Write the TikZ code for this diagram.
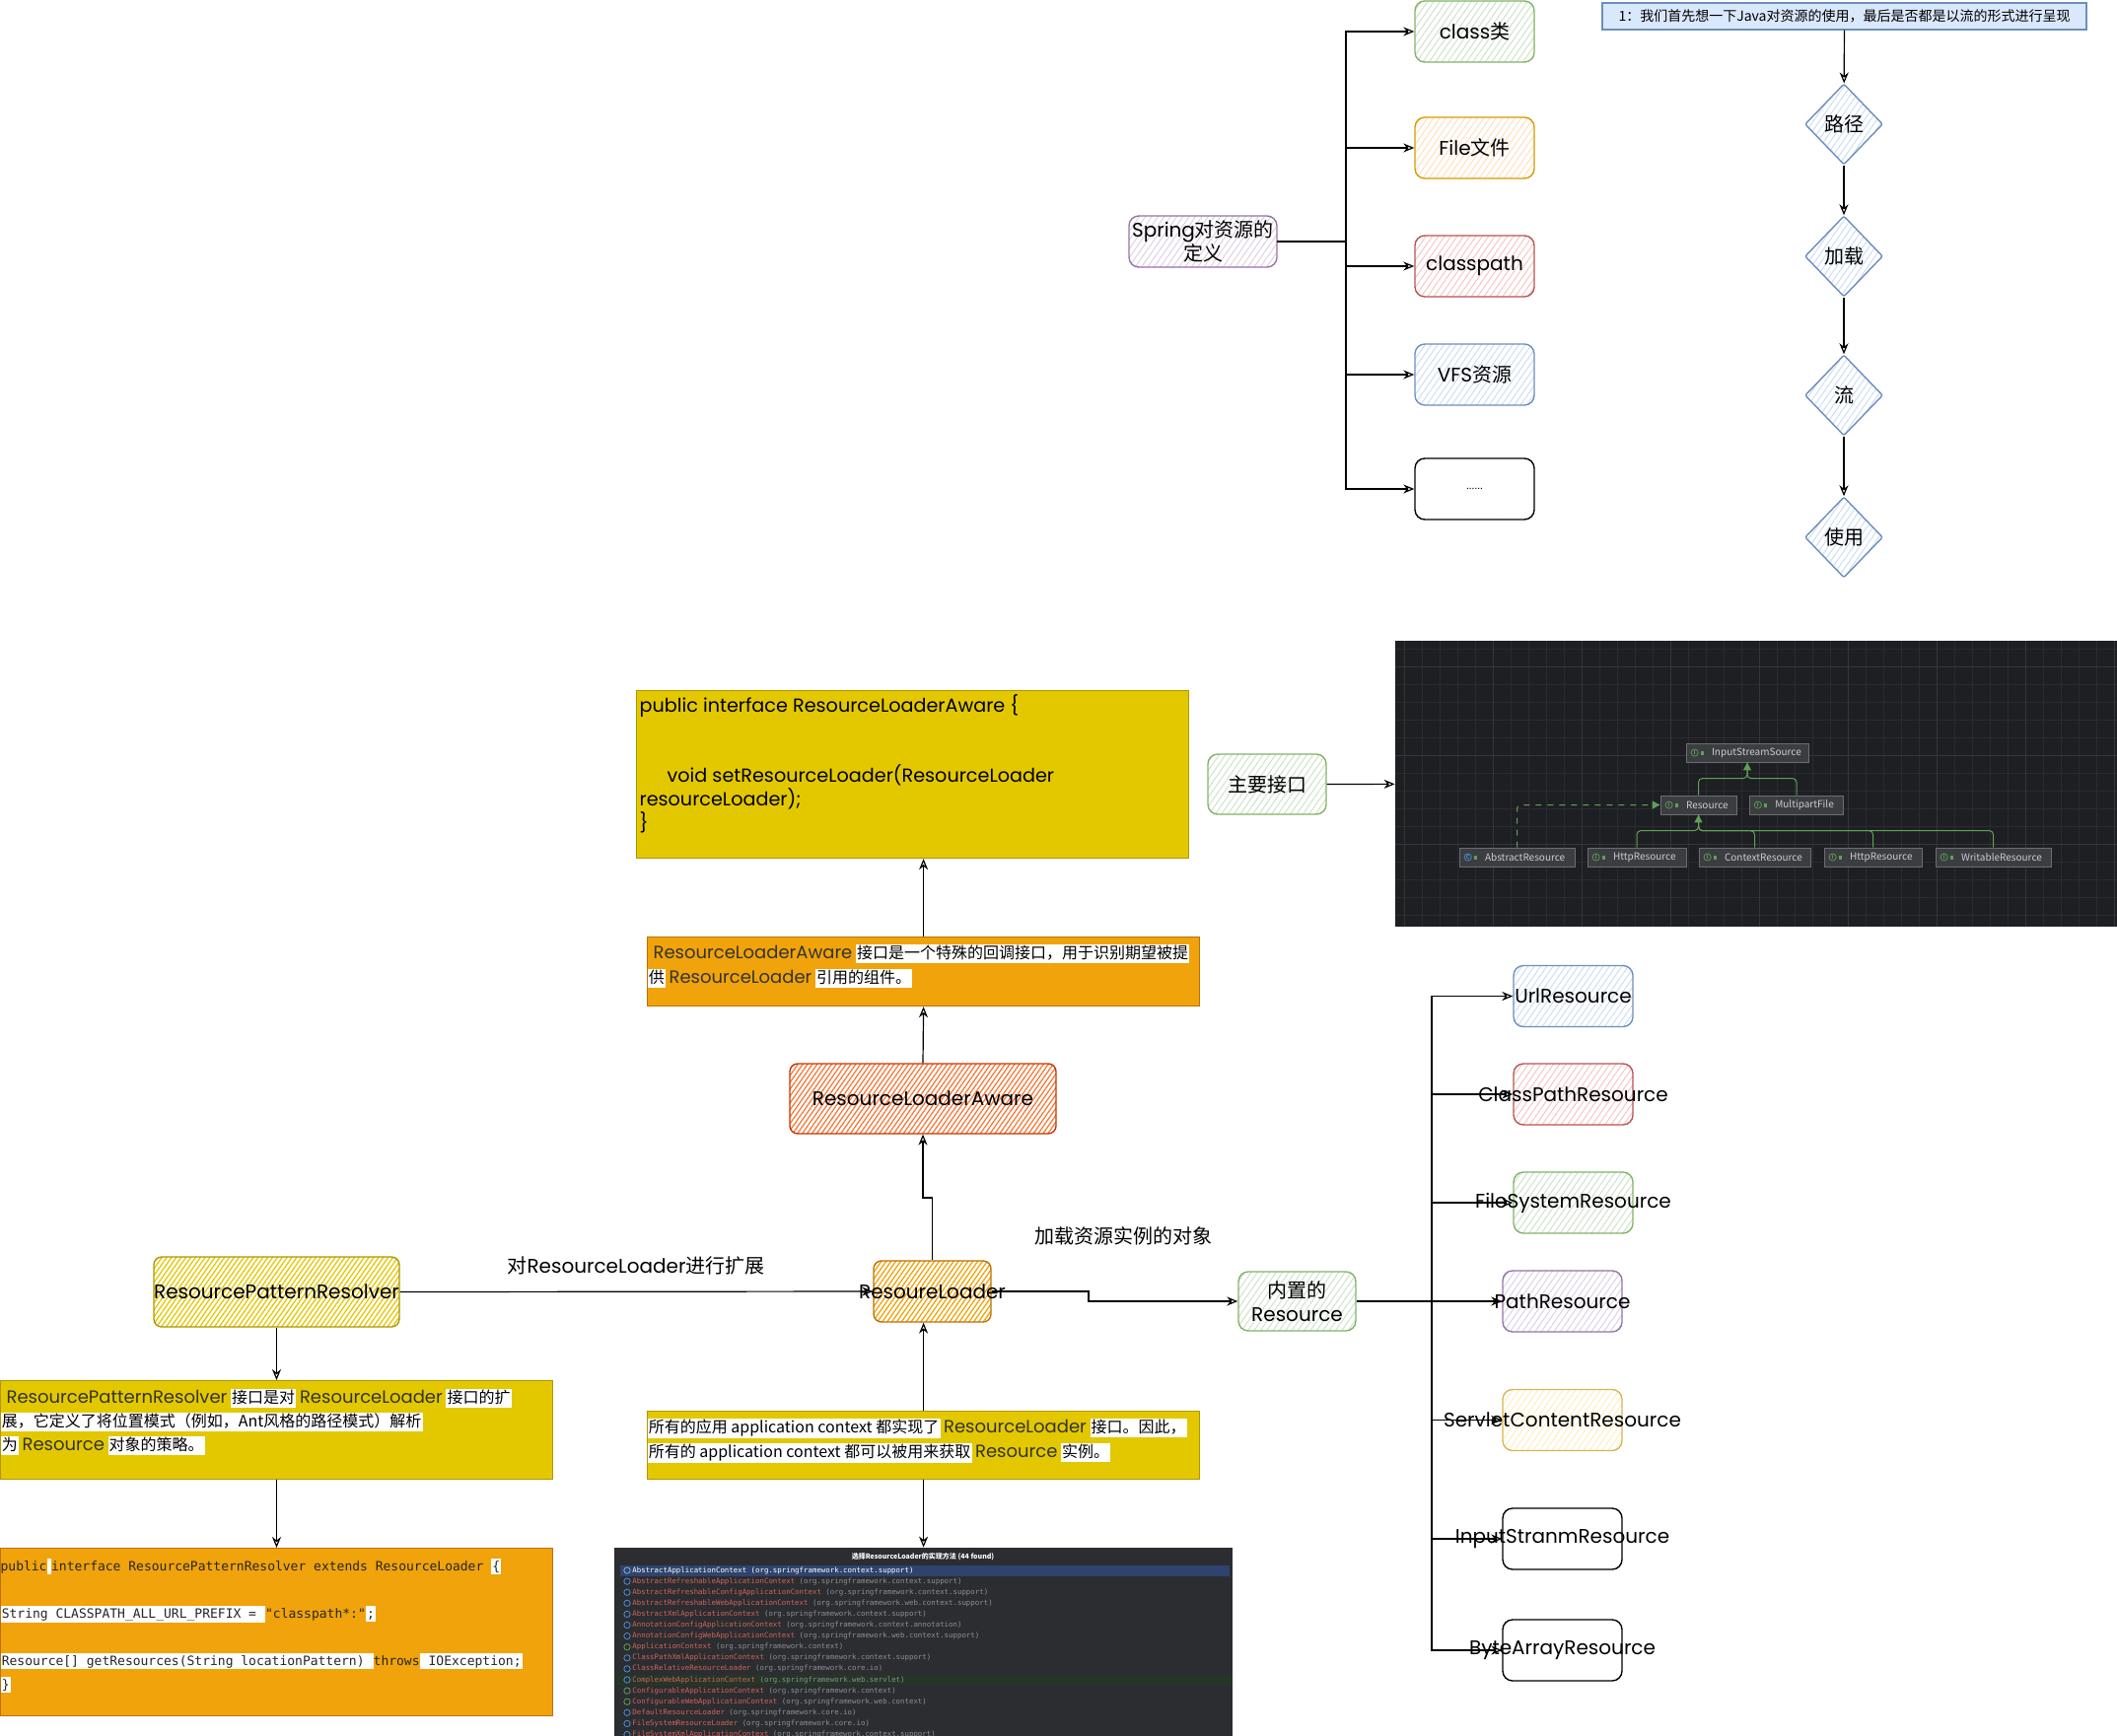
\documentclass[tikz,border=0pt]{standalone}
\usepackage{fontspec}
\setmainfont{Noto Sans CJK SC}
\newfontfamily\skfont{Poppins}
\newfontfamily\monofont{DejaVu Sans Mono}
\usetikzlibrary{arrows.meta, shapes.geometric, patterns.meta}

\definecolor{grnD}{HTML}{82B366}
\definecolor{grnL}{HTML}{C9E1C6}
\definecolor{orgD}{HTML}{D79B00}
\definecolor{orgL}{HTML}{FFDDB8}
\definecolor{redD}{HTML}{B85450}
\definecolor{redL}{HTML}{F5C2C0}
\definecolor{bluD}{HTML}{6C8EBF}
\definecolor{bluL}{HTML}{DAE8FC}
\definecolor{bluH}{HTML}{C9DBF5}
\definecolor{purD}{HTML}{9673A6}
\definecolor{purL}{HTML}{DCCDE3}
\definecolor{ylwD}{HTML}{D6B656}
\definecolor{ylwL}{HTML}{FFEDB8}
\definecolor{codeY}{HTML}{E3C800}
\definecolor{codeYD}{HTML}{B09500}
\definecolor{codeO}{HTML}{F0A30A}
\definecolor{codeOD}{HTML}{BD7000}
\definecolor{awareD}{HTML}{C73500}
\definecolor{awareH}{HTML}{F47A3C}
\definecolor{shotbg}{HTML}{1E1F22}
\definecolor{gridA}{HTML}{292B2F}
\definecolor{gridB}{HTML}{34363B}
\definecolor{umlfill}{HTML}{3B3D41}
\definecolor{umlline}{HTML}{6A6D73}
\definecolor{umltext}{HTML}{C9CCD1}
\definecolor{umlgrn}{HTML}{5FA058}
\definecolor{umlblu}{HTML}{4C8DDB}
\definecolor{listbg}{HTML}{2B2D30}
\definecolor{selblue}{HTML}{2E436E}
\definecolor{selgrn}{HTML}{253528}
\definecolor{rowred}{HTML}{D0645A}
\definecolor{rowgray}{HTML}{8C8F94}
\definecolor{txtdark}{HTML}{333333}

\newcommand{\hl}[1]{{\setlength{\fboxsep}{0.6pt}\colorbox{white}{\rule[-0.2em]{0pt}{1.08em}#1}}}
\newcommand{\skd}{\skfont\fontsize{9}{12.5}\selectfont\color{txtdark}}

\begin{document}
\begin{tikzpicture}[
    x=0.5pt, y=-0.5pt,
    sketch/.style 2 args={rectangle, rounded corners=5pt, draw=#1, line width=0.7pt,
        preaction={fill=white}, pattern={Lines[angle=55,distance=2.6pt,line width=0.45pt]}, pattern color=#2,
        minimum width=60.5pt, minimum height=31pt, inner sep=0pt, align=center,
        font=\fontsize{10}{12}\selectfont},
    sketchD/.style 2 args={rectangle, rounded corners=4pt, draw=#1, line width=0.7pt,
        preaction={fill=white}, pattern={Lines[angle=55,distance=2pt,line width=0.65pt]}, pattern color=#2,
        inner sep=0pt, align=center, font=\fontsize{10}{12}\selectfont},
    diam/.style={sketch={bluD}{bluH}, diamond, rounded corners=1pt, minimum width=39.5pt, minimum height=41pt},
    codebox/.style 2 args={rectangle, draw=#1, fill=#2, line width=0.6pt, inner sep=0pt, anchor=north west},
    notebox/.style={rectangle, draw=bluD, fill=bluL, line width=0.6pt, minimum width=245.5pt,
        minimum height=13.5pt, inner sep=0pt, font=\fontsize{7}{8}\selectfont},
    lab/.style={inner sep=0pt, font=\fontsize{10}{12}\selectfont},
    arr/.style={-{Stealth[open, length=5.5pt, width=4.5pt]}, line width=0.6pt},
    uml/.style={rectangle, draw=umlline, fill=umlfill, line width=0.4pt, inner xsep=2pt, inner ysep=0pt,
        minimum height=9.5pt, text width=#1, align=left, text=umltext, font=\fontsize{5}{6}\selectfont},
    icontxt/.style={inner sep=0pt, font=\bfseries\fontsize{2.6}{3}\selectfont},
    umlline/.style={draw=umlgrn, line width=0.5pt, rounded corners=2pt},
    umlarr/.style={umlline, -{Triangle[length=4pt, width=4pt]}},
    rowtxt/.style={anchor=west, inner sep=0pt, font=\monofont\fontsize{3.7}{4}\selectfont}
]
    \useasboundingbox (0,0) rectangle (2147,1761);

    % Spring 对资源的定义
    \node[sketch={purD}{purL}, minimum width=75pt, minimum height=26pt] (spring) at (1220,245) {{\skfont Spring}对资源的\\定义};
    \node[sketch={grnD}{grnL}] (cls) at (1495.5,32) {{\skfont class}类};
    \node[sketch={orgD}{orgL}] (file) at (1495.5,150) {{\skfont File}文件};
    \node[sketch={redD}{redL}] (cpath) at (1495.5,270) {\skfont classpath};
    \node[sketch={bluD}{bluH}] (vfs) at (1495.5,380) {{\skfont VFS}资源};
    \node[sketch={black}{white}] (dots) at (1495.5,496) {\fontsize{5}{5}\selectfont ......};

    \coordinate (trunkA) at (1365,245);
    \draw[line width=0.7pt] (spring.east) -- (trunkA);
    \foreach \n in {cls,file,cpath,vfs,dots}
        \draw[arr] (trunkA) |- (\n.west);

    % 资源的使用流程
    \node[notebox] (note) at (1870.5,16.5) {1：我们首先想一下Java对资源的使用，最后是否都是以流的形式进行呈现};
    \node[diam] (path) at (1870,126) {路径};
    \node[diam] (load) at (1870,260) {加载};
    \node[diam] (stream) at (1870,401) {流};
    \node[diam] (use) at (1870,545) {使用};
    \draw[arr] (note) -- (path);
    \draw[arr] (path) -- (load);
    \draw[arr] (load) -- (stream);
    \draw[arr] (stream) -- (use);

    % ResourceLoaderAware 接口代码
    \node[codebox={codeYD}{codeY}] (rlacode) at (645,700) {\parbox[c][85pt][t]{280pt}{\skfont\fontsize{9.6}{11.9}\selectfont\vspace*{2pt}
        \hspace*{1.5pt}public interface ResourceLoaderAware \{\\
        \mbox{}\\
        \mbox{}\\
        \hspace*{15.5pt}void setResourceLoader(ResourceLoader\\
        \hspace*{1.5pt}resourceLoader);\\
        \hspace*{1.5pt}\}}};

    % 主要接口 + 类图截图
    \node[sketch={grnD}{grnL}, minimum width=60pt, minimum height=30.5pt] (mainif) at (1285,795.5) {主要接口};
    \node[fill=shotbg, minimum width=366pt, minimum height=145pt, inner sep=0pt] (shot1) at (1781,795) {};
    \begin{scope}
        \clip (shot1.south west) rectangle (shot1.north east);
        \foreach \gx in {1424,1442,...,2147} \draw[gridA, line width=0.4pt] (\gx,650) -- (\gx,940);
        \foreach \gy in {658,676,...,940} \draw[gridA, line width=0.4pt] (1415,\gy) -- (2147,\gy);
        \foreach \gx in {1424,1514,...,2147} \draw[gridB, line width=0.5pt] (\gx,650) -- (\gx,940);
        \foreach \gy in {676,766,...,940} \draw[gridB, line width=0.5pt] (1415,\gy) -- (2147,\gy);
    \end{scope}
    \draw[arr] (mainif) -- (shot1);

    \node[uml=58pt] (iss) at (1772,763.5) {\mbox{\hspace*{11pt}InputStreamSource}};
    \node[uml=34.5pt] (res) at (1722.5,816.5) {\mbox{\hspace*{11pt}Resource}};
    \node[uml=43.75pt] (mpf) at (1822,816.5) {\mbox{\hspace*{11pt}MultipartFile}};
    \node[uml=54.5pt] (absr) at (1538.5,869.5) {\mbox{\hspace*{11pt}AbstractResource}};
    \node[uml=46pt] (http1) at (1660,869.5) {\mbox{\hspace*{11pt}HttpResource}};
    \node[uml=52.5pt] (ctxr) at (1779.5,869.5) {\mbox{\hspace*{11pt}ContextResource}};
    \node[uml=45.5pt] (http2) at (1899.5,869.5) {\mbox{\hspace*{11pt}HttpResource}};
    \node[uml=54.5pt] (wrr) at (2021.5,869.5) {\mbox{\hspace*{11pt}WritableResource}};
    \foreach \n/\c/\l in {iss/umlgrn/I, res/umlgrn/I, mpf/umlgrn/I, absr/umlblu/C,
                          http1/umlgrn/I, ctxr/umlgrn/I, http2/umlgrn/I, wrr/umlgrn/I} {
        \draw[\c, line width=0.35pt] ([xshift=4.5pt]\n.west) circle (1.8pt);
        \node[icontxt, text=\c] (ic\n) at ([xshift=4.5pt]\n.west) {\l};
        \fill[umlgrn] ([xshift=7.8pt, yshift=-1pt]\n.west) rectangle ++(1.4pt,1.8pt);
    }

    \draw[umlarr] (res.north) -- ++(0,-17) -| (iss.south);
    \draw[umlline] (mpf.north) -- ++(0,-17) -| (iss.south);
    \draw[umlarr] (http1.north) -- ++(0,-17) -| (res.south);
    \foreach \n in {ctxr,http2,wrr}
        \draw[umlline] (\n.north) -- ++(0,-17) -| (res.south);
    \draw[umlarr, dashed] (absr.north) |- (res.west);

    % ResourceLoaderAware 说明
    \node[codebox={codeOD}{codeO}] (rlades) at (656,950) {\parbox[c][35pt][t]{280pt}{\fontsize{8}{12.5}\selectfont\vspace*{3.5pt}
        \mbox{\hspace*{3pt}{\skd ResourceLoaderAware} \hl{接口是一个特殊的回调接口，用于识别期望被提}}\\
        \mbox{\hl{供} {\skd ResourceLoader} \hl{引用的组件。}}}};
    \node[sketchD={awareD}{awareH}, minimum width=135pt, minimum height=35.5pt] (rlabox) at (936,1114.5) {\skfont ResourceLoaderAware};

    % ResourceLoader
    \node[sketchD={codeOD}{codeO}, minimum width=59.5pt, minimum height=31pt] (loader) at (945.5,1310) {\makebox[0pt]{\skfont ResoureLoader}};
    \node[sketch={grnD}{grnL}, minimum width=59.5pt, minimum height=30pt] (builtin) at (1315.5,1320) {内置的\\{\skfont Resource}};
    \node[lab] (loadlbl) at (1139,1254) {加载资源实例的对象};
    \node[lab] (extlbl) at (645,1284) {对{\skfont ResourceLoader}进行扩展};

    % ResourcePatternResolver
    \node[sketchD={codeYD}{codeY}, minimum width=124.5pt, minimum height=35.5pt] (resolver) at (280.5,1310.5) {\makebox[0pt]{\skfont ResourcePatternResolver}};
    \node[codebox={codeYD}{codeY}] (resdes) at (0,1400) {\parbox[c][50pt][t]{280pt}{\fontsize{8}{12}\selectfont\vspace*{4pt}
        \mbox{\hspace*{3pt}{\skd ResourcePatternResolver} \hl{接口是对} {\skd ResourceLoader} \hl{接口的扩}}\\
        \mbox{\hl{展，它定义了将位置模式（例如，Ant风格的路径模式）解析}}\\
        \mbox{\hl{为} {\skd Resource} \hl{对象的策略。}}}};
    \node[codebox={codeOD}{codeO}] (rescode) at (0,1570) {\parbox[c][85pt][t]{280pt}{\monofont\fontsize{6.5}{12}\selectfont\color{black!85}\vspace*{5pt}
        \mbox{public\hl{\,}interface ResourcePatternResolver extends ResourceLoader \hl{\{}}\\
        \mbox{}\\
        \mbox{\hl{String CLASSPATH\_ALL\_URL\_PREFIX = }"classpath*:"\hl{;}}\\
        \mbox{}\\
        \mbox{\hl{Resource[] getResources(String locationPattern) }throws\hl{ IOException;}}\\
        \mbox{\hl{\}}}}};

    % ApplicationContext 说明 + 实现类截图
    \node[codebox={codeYD}{codeY}] (appdes) at (656,1431) {\parbox[c][34.5pt][t]{280pt}{\fontsize{8}{12.5}\selectfont\vspace*{3.5pt}
        \mbox{\hl{所有的应用 application context 都实现了} {\skd ResourceLoader} \hl{接口。因此，}}\\
        \mbox{\hl{所有的 application context 都可以被用来获取} {\skd Resource} \hl{实例。}}}};
    \node[fill=listbg, minimum width=313.5pt, minimum height=95.5pt, inner sep=0pt] (shot2) at (936.5,1665.5) {};
    \begin{scope}
        \clip (shot2.south west) rectangle (shot2.north east);
        \fill[selblue] (629,1587.5) rectangle (1247,1598.5);
        \fill[selgrn] (623,1698.5) rectangle (1250,1709.5);
        \node[inner sep=0pt, text=white, font=\bfseries\fontsize{3.5}{4}\selectfont] (shothdr) at (936,1579) {选择ResourceLoader的实现方法 (44 found)};
        \draw[umlblu!70!white, line width=0.4pt] (636,1593) circle (1.6pt);
        \node[rowtxt, text=white] (row1) at (641,1593) {AbstractApplicationContext (org.springframework.context.support)};
        \foreach \nm/\pk/\ic [count=\i from 2] in {
            AbstractRefreshableApplicationContext/org.springframework.context.support/umlblu,
            AbstractRefreshableConfigApplicationContext/org.springframework.context.support/umlblu,
            AbstractRefreshableWebApplicationContext/org.springframework.web.context.support/umlblu,
            AbstractXmlApplicationContext/org.springframework.context.support/umlblu,
            AnnotationConfigApplicationContext/org.springframework.context.annotation/umlblu,
            AnnotationConfigWebApplicationContext/org.springframework.web.context.support/umlblu,
            ApplicationContext/org.springframework.context/umlgrn,
            ClassPathXmlApplicationContext/org.springframework.context.support/umlblu,
            ClassRelativeResourceLoader/org.springframework.core.io/umlblu,
            ComplexWebApplicationContext/org.springframework.web.servlet/umlblu,
            ConfigurableApplicationContext/org.springframework.context/umlgrn,
            ConfigurableWebApplicationContext/org.springframework.web.context/umlgrn,
            DefaultResourceLoader/org.springframework.core.io/umlblu,
            FileSystemResourceLoader/org.springframework.core.io/umlblu,
            FileSystemXmlApplicationContext/org.springframework.context.support/umlblu}
        {
            \draw[\ic, line width=0.4pt] (636,{1581.9+11.1*\i}) circle (1.6pt);
            \node[rowtxt] (row\i) at (641,{1581.9+11.1*\i}) {{\color{rowred}\nm} {\color{rowgray}(\pk)}};
        }
    \end{scope}

    % 内置的 Resource 实现
    \node[sketch={bluD}{bluH}] (url) at (1595.5,1010.5) {\skfont UrlResource};
    \node[sketch={redD}{redL}] (cpr) at (1595.5,1110) {\makebox[0pt]{\skfont ClassPathResource}};
    \node[sketch={grnD}{grnL}] (fsr) at (1595.5,1220) {\makebox[0pt]{\skfont FileSystemResource}};
    \node[sketch={purD}{purL}] (pathr) at (1584.5,1320) {\makebox[0pt]{\skfont PathResource}};
    \node[sketch={ylwD}{ylwL}] (servr) at (1584.5,1440.5) {\makebox[0pt]{\skfont ServletContentResource}};
    \node[sketch={black}{white}] (isr) at (1584.5,1561) {\makebox[0pt]{\skfont InputStranmResource}};
    \node[sketch={black}{white}] (bar) at (1584.5,1674) {\makebox[0pt]{\skfont ByteArrayResource}};

    % Arrows
    \coordinate (jogA) at (945.5,1215);
    \draw[arr] (loader.north) -- (jogA) -| (rlabox.south);
    \draw[arr] (rlabox.north) -- (rlades.south);
    \draw[arr] (rlades.north) -- (rlades.north |- rlacode.south);
    \draw[arr] (appdes.north) -- (appdes.north |- loader.south);
    \draw[arr] (appdes.south) -- (appdes.south |- shot2.north);
    \draw[arr] (resolver.east) -- (loader.west);
    \coordinate (elbowB) at (1104,1310);
    \draw[arr] (loader.east) -- (elbowB) |- (builtin.west);
    \draw[arr] (resolver.south) -- (resolver.south |- resdes.north);
    \draw[arr] (resolver.south |- resdes.south) -- (resolver.south |- rescode.north);

    \coordinate (trunkB) at (1452,1320);
    \draw[line width=0.7pt] (builtin.east) -- (trunkB);
    \foreach \n in {url,cpr,fsr,pathr,servr,isr,bar}
        \draw[arr] (trunkB) |- (\n.west);

\end{tikzpicture}
\end{document}
